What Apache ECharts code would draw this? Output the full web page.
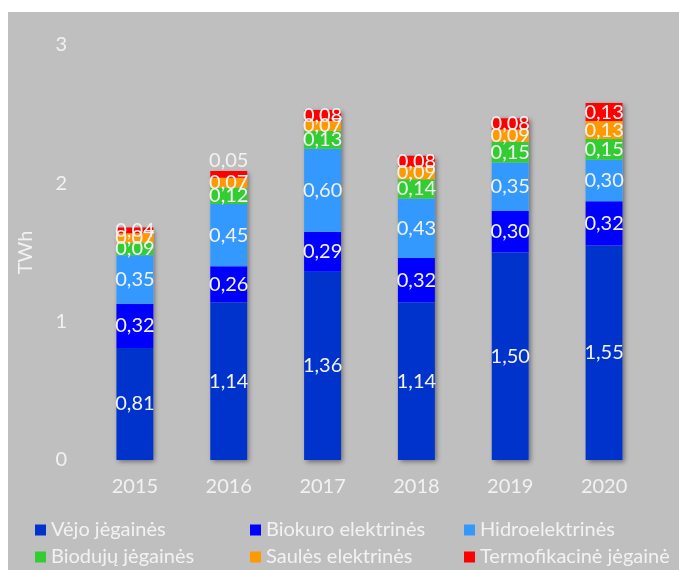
<!DOCTYPE html>
<html>
<head>
<meta charset="utf-8">
<script src="https://cdn.jsdelivr.net/npm/echarts@6/dist/echarts.min.js"></script>
<style>
  html, body { margin: 0; padding: 0; background: #ffffff; }
  #chart { width: 679px; height: 570px; }
</style>
</head>
<body>
<div id="chart"></div>
<script>
// Electricity generation from renewable sources, TWh
const years = ['2015', '2016', '2017', '2018', '2019', '2020'];
const seriesNames = [
  'Vėjo jėgainės',
  'Biokuro elektrinės',
  'Hidroelektrinės',
  'Biodujų jėgainės',
  'Saulės elektrinės',
  'Termofikacinė jėgainė'
];
const wind    = [0.81, 1.14, 1.36, 1.14, 1.50, 1.55];
const biofuel = [0.32, 0.26, 0.29, 0.32, 0.30, 0.32];
const hydro   = [0.35, 0.45, 0.60, 0.43, 0.35, 0.30];
const biogas  = [0.09, 0.12, 0.13, 0.14, 0.15, 0.15];
const solar   = [0.07, 0.07, 0.07, 0.09, 0.09, 0.13];
const chp     = [0.04, 0.05, 0.08, 0.08, 0.08, 0.13];
const yTicks  = [0, 1, 2, 3];

const colors = ['#0033CC', '#0000FF', '#3399FF', '#33CC33', '#FF9900', '#FF0000'];
const values = [wind, biofuel, hydro, biogas, solar, chp];
const totals = years.map((_, i) => values.reduce((s, arr) => s + arr[i], 0));

const FONT = 'Lato, "Open Sans", sans-serif';
const TEXT = '#F2F2F2';
const BG = '#BFBFBF';
const FS = 20;
const FW = 400;

const fmt = v => v.toFixed(2).replace('.', ',');

const chart = echarts.init(document.getElementById('chart'), null, { renderer: 'canvas' });

const stackSeries = values.map((arr, k) => ({
  name: seriesNames[k],
  type: 'bar',
  stack: 'total',
  barWidth: 37,
  barGap: '-100%',
  itemStyle: { color: colors[k] },
  label: {
    show: true,
    position: 'inside',
    color: TEXT,
    fontFamily: FONT,
    fontSize: FS,
    fontWeight: FW,
    formatter: p => fmt(p.value)
  },
  data: arr.map((v, i) => {
    // the thin top segment of 2016 carries its label above the bar
    if (k === 5 && i === 1) {
      return { value: v, label: { position: 'top', distance: 0 } };
    }
    return v;
  }),
  z: 3
}));

// Drop shadow behind each whole column
const shadowSeries = {
  name: '_shadow',
  type: 'bar',
  barWidth: 37,
  barGap: '-100%',
  silent: true,
  itemStyle: {
    color: BG,
    shadowColor: 'rgba(0,0,0,0.45)',
    shadowBlur: 5,
    shadowOffsetX: 2,
    shadowOffsetY: 2
  },
  label: { show: false },
  data: totals,
  z: 1
};

const legendCols = [35, 250, 464];
const legendRows = [520, 547];
const legends = seriesNames.map((n, k) => ({
  data: [n],
  left: legendCols[k % 3],
  top: legendRows[Math.floor(k / 3)],
  itemWidth: 11,
  itemHeight: 11,
  icon: 'rect',
  padding: 0,
  textStyle: { color: TEXT, fontFamily: FONT, fontSize: FS, fontWeight: FW }
}));

chart.setOption({
  backgroundColor: BG,
  animation: false,
  color: colors,
  graphic: [
    { type: 'rect', shape: { x: 0, y: 0, width: 8, height: 570 }, style: { fill: '#ffffff' }, silent: true },
    { type: 'rect', shape: { x: 0, y: 0, width: 679, height: 12 }, style: { fill: '#ffffff' }, silent: true }
  ],
  grid: { left: 88, right: 28, top: 45, bottom: 110, containLabel: false },
  legend: legends,
  xAxis: {
    type: 'category',
    data: years,
    axisLine: { show: false },
    axisTick: { show: false },
    axisLabel: { color: TEXT, fontFamily: FONT, fontSize: FS, fontWeight: FW, margin: 17 }
  },
  yAxis: {
    type: 'value',
    min: yTicks[0],
    max: yTicks[yTicks.length - 1],
    interval: 1,
    name: 'TWh',
    nameLocation: 'middle',
    nameGap: 52,
    nameTextStyle: { color: TEXT, fontFamily: FONT, fontSize: FS, fontWeight: FW },
    axisLine: { show: false },
    axisTick: { show: false },
    splitLine: { show: false },
    axisLabel: { color: TEXT, fontFamily: FONT, fontSize: FS, fontWeight: FW, margin: 21 }
  },
  series: [shadowSeries].concat(stackSeries)
});
</script>
</body>
</html>
